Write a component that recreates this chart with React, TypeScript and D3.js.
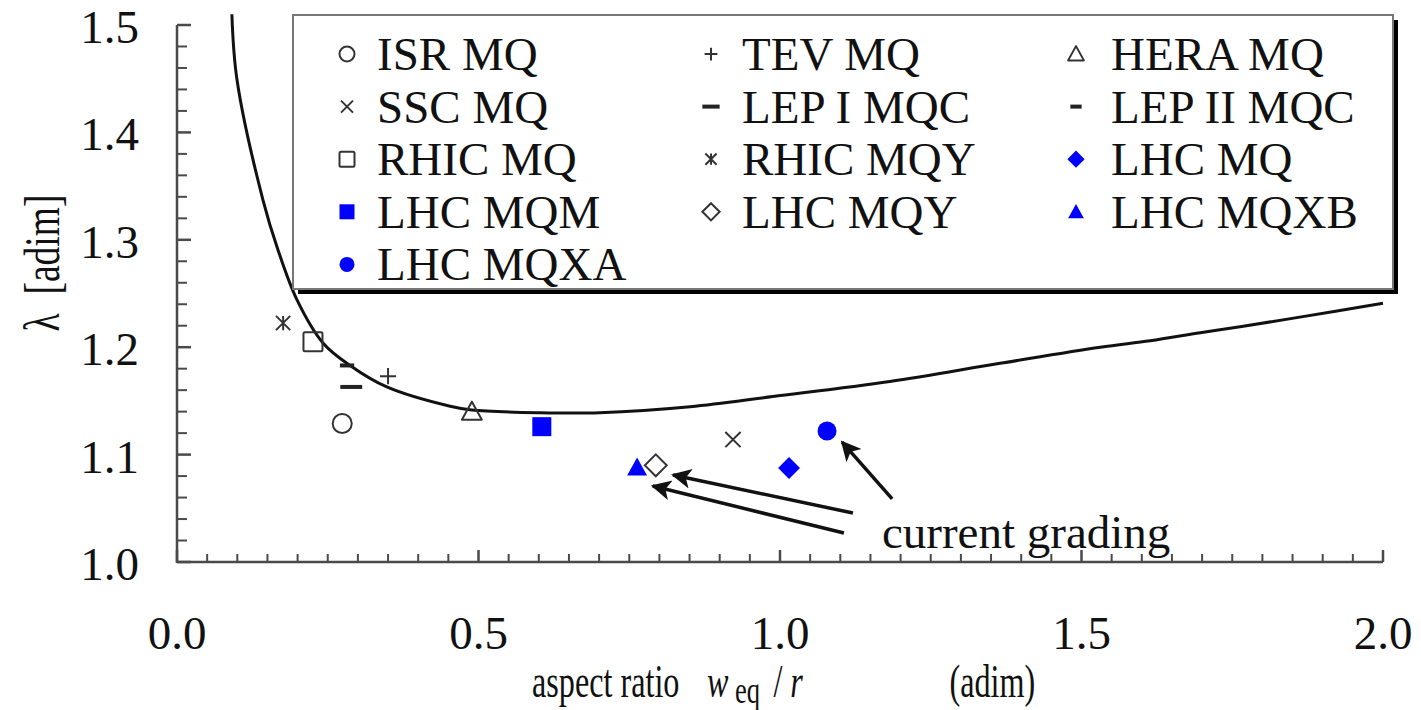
import React from 'react';
import * as d3 from 'd3';

// Magnet series: legend order is row-major over three columns
const seriesNames = [
  'ISR MQ', 'TEV MQ', 'HERA MQ',
  'SSC MQ', 'LEP I MQC', 'LEP II MQC',
  'RHIC MQ', 'RHIC MQY', 'LHC MQ',
  'LHC MQM', 'LHC MQY', 'LHC MQXB',
  'LHC MQXA',
];
const seriesShapes = [
  'circle', 'plus', 'triangle',
  'cross', 'longDash', 'shortDash',
  'square', 'star', 'diamond',
  'square', 'diamond', 'triangle',
  'circle',
];
const seriesFilled = [
  false, false, false,
  false, false, false,
  false, false, true,
  true, false, true,
  true,
];
const aspectRatio = [
  0.274, 0.35, 0.489,
  0.922, 0.289, 0.282,
  0.2255, 0.176, 1.015,
  0.605, 0.794, 0.763,
  1.078,
];
const lambdaValues = [
  1.129, 1.173, 1.14,
  1.114, 1.163, 1.183,
  1.205, 1.2225, 1.0875,
  1.126, 1.09, 1.088,
  1.122,
];

// Optimum lambda curve
const curveX = [0.091, 0.0995, 0.1426, 0.1675, 0.199, 0.242, 0.287, 0.348, 0.453, 0.489, 0.602, 0.701, 0.851, 0.988, 1.182, 1.365, 1.531, 1.614, 1.697, 1.763, 1.862, 2.0];
const curveY = [1.51, 1.449, 1.337, 1.2905, 1.244, 1.204, 1.183, 1.163, 1.145, 1.1415, 1.139, 1.139, 1.1445, 1.154, 1.168, 1.185, 1.2, 1.206, 1.2135, 1.219, 1.228, 1.241];

// Tick labels
const xTickLabels = ['0.0', '0.5', '1.0', '1.5', '2.0'];
const yTickLabels = ['1.0', '1.1', '1.2', '1.3', '1.4', '1.5'];

// "current grading" annotation arrows (tail -> head, data units)
const arrowTailX = [1.186, 1.121, 1.106];
const arrowTailY = [1.0587, 1.0456, 1.027];
const arrowHeadX = [1.103, 0.8226, 0.789];
const arrowHeadY = [1.1117, 1.081, 1.0708];
const annotationText = 'current grading';
const annotationPos = [1.169, 1.013];

const FONT = '"Liberation Serif", "Times New Roman", Times, serif';
const AXIS = '#4a4a4a';
const MARK = '#333';
const BLUE = '#0000ff';

function Marker({ shape, filled, cx, cy, s }: { shape: string; filled: boolean; cx: number; cy: number; s: number }) {
  const fill = filled ? BLUE : 'none';
  const stroke = filled ? 'none' : MARK;
  const sw = 2;
  const t = `translate(${cx},${cy})`;
  switch (shape) {
    case 'circle':
      return <circle cx={cx} cy={cy} r={s} fill={fill} stroke={stroke} strokeWidth={sw} />;
    case 'square':
      return <rect x={cx - s} y={cy - s} width={2 * s} height={2 * s} rx={filled ? 0 : 1.5} fill={fill} stroke={stroke} strokeWidth={sw} />;
    case 'triangle':
      return <path transform={t} d={`M0,${-s * 1.05}L${s * 1.05},${s * 0.85}L${-s * 1.05},${s * 0.85}Z`} fill={fill} stroke={stroke} strokeWidth={sw} strokeLinejoin="round" />;
    case 'diamond':
      return <path transform={t} d={`M0,${-s * 1.15}L${s * 1.15},0L0,${s * 1.15}L${-s * 1.15},0Z`} fill={fill} stroke={stroke} strokeWidth={sw} />;
    case 'cross': {
      const a = s * 0.8;
      return <path transform={t} d={`M${-a},${-a}L${a},${a}M${-a},${a}L${a},${-a}`} stroke={MARK} strokeWidth={sw} />;
    }
    case 'plus': {
      const a = s * 0.85;
      return <path transform={t} d={`M${-a},0L${a},0M0,${-a}L0,${a}`} stroke={MARK} strokeWidth={sw} />;
    }
    case 'star': {
      const a = s * 0.75;
      return <path transform={t} d={`M${-a},${-a}L${a},${a}M${-a},${a}L${a},${-a}M0,${-a}L0,${a}`} stroke={MARK} strokeWidth={sw} />;
    }
    case 'longDash':
      return <rect x={cx - s * 1.15} y={cy - 2} width={s * 2.3} height={4} fill="#222" />;
    case 'shortDash':
      return <rect x={cx - s * 0.75} y={cy - 2} width={s * 1.5} height={4} fill="#222" />;
    default:
      return null;
  }
}

export default function App() {
  const width = 1421;
  const height = 710;
  const x = d3.scaleLinear().domain([0, 2]).range([177, 1383]);
  const y = d3.scaleLinear().domain([1, 1.5]).range([562, 25]);

  const xTicks = d3.range(0, 41).map((i) => i * 0.05);
  const yTicks = d3.range(0, 26).map((i) => 1 + i * 0.02);

  const line = d3
    .line<number>()
    .x((_, i) => x(curveX[i]))
    .y((_, i) => y(curveY[i]))
    .curve(d3.curveCatmullRom.alpha(0.5));
  const curvePath = line(curveX) || '';

  // legend layout
  const legLeft = 293, legTop = 15, legRight = 1393, legBottom = 289;
  const colMarkerX = [347, 711, 1076];
  const colTextX = [377, 742, 1111];
  const rowY = (r: number) => 54 + r * 52.6;

  return (
    <svg width={width} height={height} style={{ position: 'absolute', left: 0, top: 0, background: '#fff' }}>
      <defs>
        <marker id="arrowHead" viewBox="0 0 10 10" refX="9" refY="5" markerWidth="24" markerHeight="20" markerUnits="userSpaceOnUse" orient="auto">
          <path d="M0,0L10,5L0,10L2.5,5Z" fill="#111" />
        </marker>
      </defs>

      {/* optimum curve */}
      <path d={curvePath} fill="none" stroke="#111" strokeWidth={3} />

      {/* axes */}
      <line x1={x(0)} x2={x(2)} y1={y(1)} y2={y(1)} stroke={AXIS} strokeWidth={2.5} />
      <line x1={x(0)} x2={x(0)} y1={y(1) + 1} y2={y(1.5)} stroke={AXIS} strokeWidth={2.5} />
      {xTicks.map((v, i) => {
        const major = i % 10 === 0;
        return <line key={'xt' + i} x1={x(v)} x2={x(v)} y1={y(1)} y2={y(1) - (major ? 12 : 8)} stroke={AXIS} strokeWidth={major ? 2.5 : 2} />;
      })}
      {yTicks.map((v, i) => {
        const major = i % 5 === 0;
        return <line key={'yt' + i} x1={x(0)} x2={x(0) + (major ? 14 : 10)} y1={y(v)} y2={y(v)} stroke={AXIS} strokeWidth={major ? 2.5 : 2} />;
      })}
      {xTickLabels.map((lab) => (
        <text key={'xl' + lab} x={x(+lab)} y={649} textAnchor="middle" fontFamily={FONT} fontSize={47} fill="#111">{lab}</text>
      ))}
      {yTickLabels.map((lab) => (
        <text key={'yl' + lab} x={139} y={y(+lab) + 18} textAnchor="end" fontFamily={FONT} fontSize={47} fill="#111">{lab}</text>
      ))}

      {/* axis titles (set in a condensed serif) */}
      <g transform="translate(532,697) scale(0.7,1)" fontFamily={FONT} fill="#111">
        <text x={0} y={0} fontSize={46}>
          aspect ratio
          <tspan x={250} fontStyle="italic">w</tspan>
          <tspan x={290} dy={6} fontSize={38}>eq</tspan>
          <tspan x={345} dy={-6}>/</tspan>
          <tspan x={369} fontStyle="italic">r</tspan>
        </text>
        <text x={719} y={0} fontSize={46} textAnchor="end">(adim)</text>
      </g>
      <text transform="translate(59,263) rotate(-90) scale(0.75,1)" textAnchor="middle" fontFamily={FONT} fontSize={50} fill="#111" xmlSpace="preserve">
        {'λ  [adim]'}
      </text>

      {/* data points */}
      {seriesNames.map((name, i) => (
        <Marker key={'pt' + name} shape={seriesShapes[i]} filled={seriesFilled[i]} cx={x(aspectRatio[i])} cy={y(lambdaValues[i])} s={9.5} />
      ))}

      {/* annotation */}
      {arrowTailX.map((_, i) => (
        <line key={'ar' + i} x1={x(arrowTailX[i])} y1={y(arrowTailY[i])} x2={x(arrowHeadX[i])} y2={y(arrowHeadY[i])} stroke="#111" strokeWidth={3.5} markerEnd="url(#arrowHead)" />
      ))}
      <text x={x(annotationPos[0])} y={y(annotationPos[1])} fontFamily={FONT} fontSize={47} fill="#111">{annotationText}</text>

      {/* legend */}
      <rect x={legLeft + 5} y={legTop + 5} width={legRight - legLeft} height={legBottom - legTop} fill="#000" />
      <rect x={legLeft} y={legTop} width={legRight - legLeft} height={legBottom - legTop} fill="#fff" stroke="#777" strokeWidth={2} />
      {seriesNames.map((name, i) => {
        const c = i % 3;
        const r = Math.floor(i / 3);
        const cy = rowY(r);
        return (
          <g key={'lg' + name}>
            <Marker shape={seriesShapes[i]} filled={seriesFilled[i]} cx={colMarkerX[c]} cy={cy} s={7.5} />
            <text x={colTextX[c]} y={cy + 16} fontFamily={FONT} fontSize={47} fill="#111">{name}</text>
          </g>
        );
      })}
    </svg>
  );
}
